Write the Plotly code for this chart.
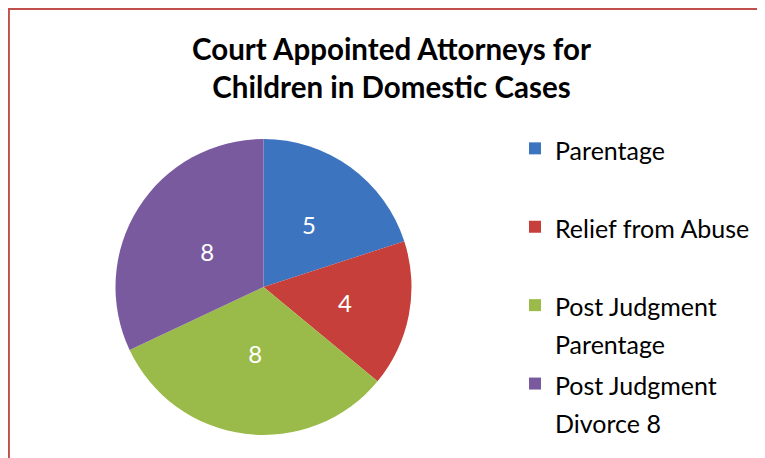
import plotly.graph_objects as go

categories = ["Parentage", "Relief from Abuse", "Post Judgment<br>Parentage", "Post Judgment<br>Divorce 8"]
values = [5, 4, 8, 8]
colors = ["#3d74c0", "#c63f3b", "#9abb49", "#7a5a9f"]

W, H = 765, 458
LEG_TEXT_PX = 25

def legend_label(c):
    txt = c if "<br>" in c else c + "<br> "
    return f"<span style='font-size:{LEG_TEXT_PX}px'>{txt}</span>"

labels = [legend_label(c) for c in categories]

CX, CY, R = 255.5, 279, 148   # pie centre / radius in figure px
R_TXT = 123                   # radius of the label-only overlay


def dom(r):
    return dict(x=[(CX - r) / W, (CX + r) / W],
                y=[(H - CY - r) / H, (H - CY + r) / H])


fig = go.Figure()
fig.add_trace(go.Pie(
    labels=labels,
    values=values,
    marker=dict(colors=colors, line=dict(width=0)),
    sort=False,
    direction="clockwise",
    rotation=0,
    textinfo="none",
    hoverinfo="label+value",
    domain=dom(R),
))
fig.add_trace(go.Pie(
    labels=labels,
    values=values,
    marker=dict(colors=["rgba(0,0,0,0)"] * len(values), line=dict(width=0)),
    sort=False,
    direction="clockwise",
    rotation=0,
    textinfo="value",
    textposition="inside",
    insidetextfont=dict(color="white", size=24, family="Lato"),
    hoverinfo="skip",
    showlegend=False,
    domain=dom(R_TXT),
))

fig.update_layout(
    width=W, height=H,
    margin=dict(l=0, r=0, t=0, b=0),
    paper_bgcolor="white",
    plot_bgcolor="white",
    font=dict(family="Lato", color="black"),
    title=dict(
        text="<b>Court Appointed Attorneys for<br>Children in Domestic Cases</b>",
        x=383.5 / W, xanchor="center",
        y=1 - 52 / H, yanchor="top",
        font=dict(size=29.5, family="Lato", color="black"),
    ),
    legend=dict(
        x=507 / W, xanchor="left",
        y=1 - 115 / H, yanchor="top",
        font=dict(size=29, family="Lato", color="black"),
        valign="top",
        itemwidth=30,
        bgcolor="rgba(0,0,0,0)",
    ),
    shapes=[
        dict(type="line", xref="paper", yref="paper",
             x0=0.8 / W, x1=0.8 / W, y0=0, y1=1 - 0.8 / H,
             line=dict(color="#c0504d", width=2.2)),
        dict(type="line", xref="paper", yref="paper",
             x0=0, x1=1, y0=1 - 0.8 / H, y1=1 - 0.8 / H,
             line=dict(color="#c0504d", width=2.2)),
    ],
)

fig.write_html("out.html")
